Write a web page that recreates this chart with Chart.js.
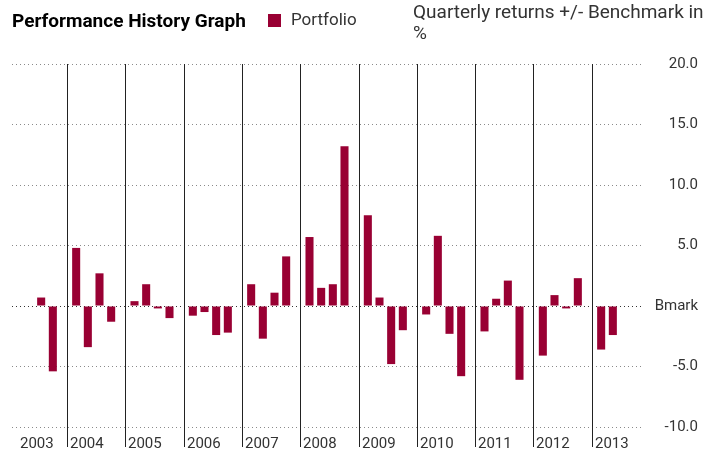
<!DOCTYPE html>
<html>
<head>
<meta charset="utf-8">
<script src="https://cdn.jsdelivr.net/npm/chart.js@4.4.1/dist/chart.umd.min.js"></script>
<style>
  body { margin: 0; background: #fff; }
  #wrap { position: relative; width: 713px; height: 452px; font-family: Roboto, 'Liberation Sans', sans-serif; color: #333; }
  #wrap canvas { position: absolute; left: 0; top: 0; }
  .title { position: absolute; left: 12px; top: 9px; font-weight: bold; font-size: 19px; color: #000; }
  .swatch { position: absolute; left: 268px; top: 14px; width: 13px; height: 13px; background: #990033; }
  .legend { position: absolute; left: 291px; top: 9px; font-size: 17px; }
  .subtitle { position: absolute; left: 413px; top: 1px; font-size: 19px; line-height: 21px; }
</style>
</head>
<body>
<div id="wrap">
  <canvas id="perfChart"></canvas>
  <div class="title">Performance History Graph</div>
  <div class="swatch"></div>
  <div class="legend">Portfolio</div>
  <div class="subtitle">Quarterly returns +/- Benchmark in<br>%</div>
</div>
<script>
const years = [2003, 2004, 2005, 2006, 2007, 2008, 2009, 2010, 2011, 2012, 2013];
const quarters = ['Q1', 'Q2', 'Q3', 'Q4'];
// quarterly return vs benchmark, one row per year
const portfolioReturns = [
  [null, null, 0.7, -5.4],
  [4.8, -3.4, 2.7, -1.3],
  [0.4, 1.8, -0.2, -1.0],
  [-0.8, -0.5, -2.4, -2.2],
  [1.8, -2.7, 1.1, 4.1],
  [5.7, 1.5, 1.8, 13.2],
  [7.5, 0.7, -4.8, -2.0],
  [-0.7, 5.8, -2.3, -5.8],
  [-2.1, 0.6, 2.1, -6.1],
  [-4.1, 0.9, -0.2, 2.3],
  [-3.6, -2.4, null, null],
];
const yMin = -10;
const yMax = 20;
const yStep = 5;

const barColor = '#990033';

// one slot per quarter plus an empty slot between years
const labels = [];
const values = [];
const yearStartIndex = [];
years.forEach((year, i) => {
  yearStartIndex.push(labels.length);
  quarters.forEach((q, j) => {
    labels.push(year + ' ' + q);
    values.push(portfolioReturns[i][j]);
  });
  if (i < years.length - 1) {
    labels.push('');
    values.push(null);
  }
});

const yearDividers = {
  id: 'yearDividers',
  afterDatasetsDraw(chart) {
    const { ctx, chartArea } = chart;
    const x = chart.scales.x;
    const slot = x.getPixelForValue(1) - x.getPixelForValue(0);
    ctx.save();
    ctx.font = '15px Roboto, "Liberation Sans", sans-serif';
    ctx.fillStyle = '#333';
    ctx.textBaseline = 'alphabetic';
    ctx.textAlign = 'left';
    yearStartIndex.forEach((idx, i) => {
      const lineX = Math.round(x.getPixelForValue(idx) - 0.8 * slot) + 0.5;
      if (i > 0) {
        ctx.strokeStyle = '#222';
        ctx.lineWidth = 1;
        ctx.beginPath();
        ctx.moveTo(lineX, chartArea.top);
        ctx.lineTo(lineX, chart.height - 5);
        ctx.stroke();
      }
      const textX = Math.max(lineX + 2.5, chartArea.left + 8);
      ctx.fillText(String(years[i]), textX, chart.height - 4);
    });
    ctx.restore();
  }
};

new Chart(document.getElementById('perfChart'), {
  type: 'bar',
  data: {
    labels: labels,
    datasets: [{
      label: 'Portfolio',
      data: values,
      backgroundColor: barColor,
      categoryPercentage: 1,
      barPercentage: 0.69,
    }],
  },
  options: {
    responsive: true,
    maintainAspectRatio: false,
    animation: false,
    layout: {
      padding: { left: 12, top: 64, right: 15, bottom: 25 },
    },
    plugins: {
      legend: { display: false },
      tooltip: { enabled: false },
    },
    scales: {
      x: {
        display: false,
      },
      y: {
        position: 'right',
        min: yMin,
        max: yMax,
        afterFit(scale) { scale.width = 56; },
        ticks: {
          stepSize: yStep,
          crossAlign: 'far',
          padding: 0,
          color: '#333',
          font: { family: 'Roboto, "Liberation Sans", sans-serif', size: 15 },
          callback: v => (v === 0 ? 'Bmark' : v.toFixed(1)),
        },
        border: { display: false, dash: [1, 3] },
        grid: {
          drawTicks: false,
          color: ctx => (ctx.tick && ctx.tick.value === 0 ? '#333' : '#8a8a8a'),
        },
      },
    },
  },
  plugins: [yearDividers],
});
</script>
</body>
</html>
